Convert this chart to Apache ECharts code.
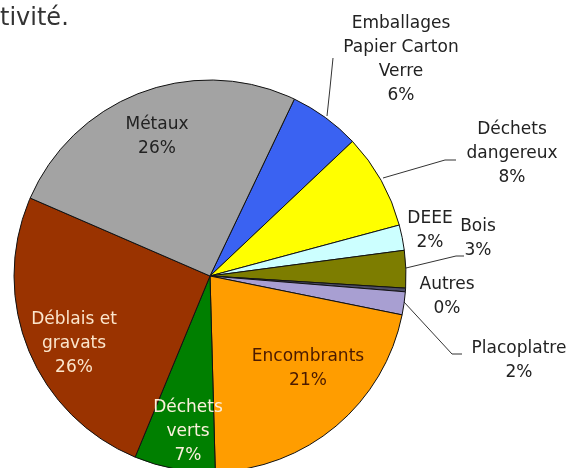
<!DOCTYPE html>
<html>
<head>
<meta charset="utf-8">
<script src="https://cdn.jsdelivr.net/npm/echarts@6/dist/echarts.min.js"></script>
<style>html,body{margin:0;padding:0;background:#fff;}#c{width:571px;height:468px;}</style>
</head>
<body>
<div id="c"></div>
<script>
// Data (clockwise from the top)
const categories = ['Emballages\nPapier Carton\nVerre', 'Déchets\ndangereux', 'DEEE', 'Bois', 'Autres', 'Placoplatre', 'Encombrants', 'Déchets\nverts', 'Déblais et\ngravats', 'Métaux'];
const values = [5.9, 7.9, 2.1, 3.1, 0.3, 1.9, 21.5, 6.7, 25.4, 25.7];
const pctLabels = ['6%', '8%', '2%', '3%', '0%', '2%', '21%', '7%', '26%', '26%'];
const colors = ['#3a62f2', '#ffff00', '#ccffff', '#7d7d00', '#4d4d66', '#a89fd2', '#ff9d00', '#007f00', '#9a3300', '#a3a3a3'];
const labelColors = ['#222', '#222', '#222', '#222', '#222', '#222', '#4a1a00', '#fbf0dc', '#fbe6cc', '#222'];

// Label placement (annotation layout only)
const labelPos = [[401, 60], [512, 154], [430, 231], [478, 239], [447, 297], [519, 361], [308, 369], [188, 432], [74, 344], [157, 137]];
const leaderLines = {
  0: [[327, 116], [330, 88], [333, 58]],
  1: [[383, 178], [445, 160], [456, 160]],
  3: [[406, 268], [456, 256], [464, 256]],
  5: [[404, 302], [452, 354], [462, 354]]
};

const chart = echarts.init(document.getElementById('c'), null, {renderer: 'canvas'});
const data = categories.map((name, i) => ({
  name: name,
  value: values[i],
  itemStyle: {color: colors[i]},
  label: {color: labelColors[i]},
  labelLine: {show: !!leaderLines[i]}
}));

chart.setOption({
  animation: false,
  graphic: [{
    type: 'text', left: 0, top: 7,
    style: {text: 'tivité.', font: '24px "DejaVu Sans"', fill: '#333'}
  }],
  series: [{
    type: 'pie',
    center: [210, 276],
    radius: 196,
    startAngle: 64.5,
    clockwise: true,
    avoidLabelOverlap: false,
    minAngle: 0,
    data: data,
    itemStyle: {borderColor: '#111', borderWidth: 1},
    label: {
      show: true,
      position: 'outside',
      fontFamily: 'DejaVu Sans',
      fontSize: 17,
      lineHeight: 24,
      align: 'center',
      formatter: p => p.name + '\n' + pctLabels[p.dataIndex]
    },
    labelLine: {lineStyle: {color: '#333', width: 1}},
    labelLayout: function (params) {
      const i = params.dataIndex;
      const res = {x: labelPos[i][0], y: labelPos[i][1], align: 'center', verticalAlign: 'middle'};
      if (leaderLines[i]) res.labelLinePoints = leaderLines[i];
      return res;
    }
  }]
});
</script>
</body>
</html>
